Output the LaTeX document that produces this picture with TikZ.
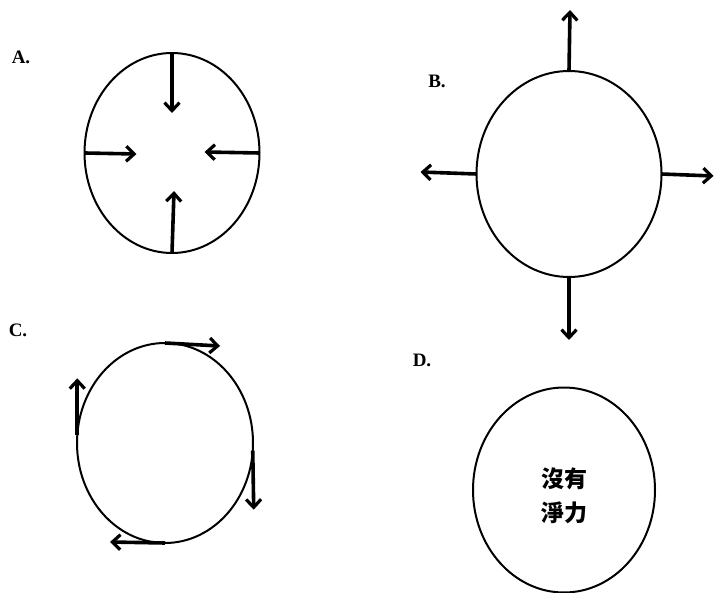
\documentclass[tikz,border=0pt]{standalone}
\usepackage{fontspec}
\setmainfont{Liberation Serif}
\newfontfamily\cjk{Noto Sans CJK TC}
\usetikzlibrary{arrows.meta,shapes.geometric}

\tikzset{
  ball/.style={draw=black,ellipse,line width=2pt,inner sep=0pt,outer sep=0pt},
  force/.style={line width=3.6pt,-{Straight Barb[length=8pt,width=15pt,line width=3.2pt]}},
  tag/.style={font=\fontsize{19}{21}\selectfont\bfseries}
}

\begin{document}
\begin{tikzpicture}[x=1pt,y=-1pt]
\useasboundingbox (0,0) rectangle (714,593);
% the four balls:
\node[ball,minimum width=175pt,minimum height=200pt] (A) at (172,153) {};
\node[ball,minimum width=185pt,minimum height=206pt] (B) at (569,174) {};
\node[ball,minimum width=176pt,minimum height=200pt] (C) at (165,443) {};
\node[ball,minimum width=182pt,minimum height=205pt] (D) at (564,490) {};
\node[font=\cjk\bfseries\fontsize{23}{34}\selectfont,align=center]
  (Dtext) at ([yshift=-6pt]D.center) {沒有\\淨力};
% labels:
\node[tag] (labA) at (21,57) {A.};
\node[tag] (labB) at (437,81) {B.};
\node[tag] (labC) at (18,330) {C.};
\node[tag] (labD) at (422,360) {D.};
% A: forces pointing in
\draw[force] (A.north) -- ++(0,60);
\draw[force] (A.west) -- ++(52,1);
\draw[force] (A.east) -- ++(-55,-1);
\draw[force] (A.south) -- ++(2,-62);
% B: forces pointing out
\draw[force] (B.north) -- ++(1,-61);
\draw[force] (B.west) -- ++(-56,-2);
\draw[force] (B.east) -- ++(52,2);
\draw[force] (B.south) -- ++(0,63);
% C: forces along the rim
\draw[force] (C.north) -- ++(55,3);
\draw[force] (C.175) -- ++(0,-57);
\draw[force] (C.-5) -- ++(1,59);
\draw[force] (C.south) -- ++(-55,-1);
\end{tikzpicture}
\end{document}
